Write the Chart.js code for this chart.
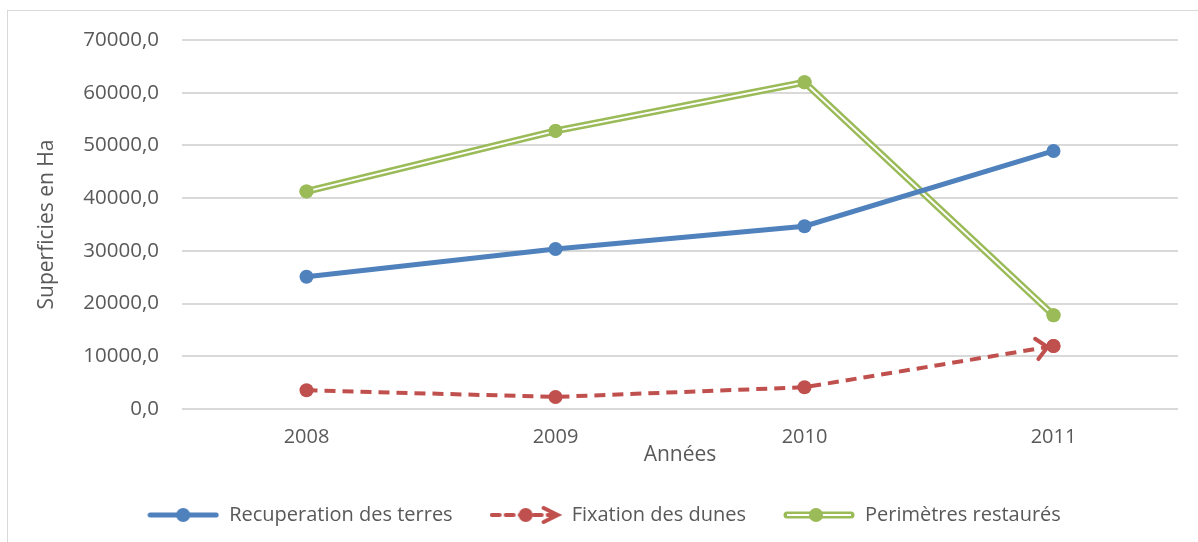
<!DOCTYPE html>
<html>
<head>
<meta charset="utf-8">
<script src="https://cdn.jsdelivr.net/npm/chart.js@4"></script>
<style>
  html, body { margin: 0; padding: 0; background: #fff; overflow: hidden; }
  #frame { position: absolute; left: 7px; top: 10px; width: 1210px; height: 560px; border: 1px solid #d9d9d9; pointer-events: none; }
  #chart { position: absolute; left: 0; top: 0; }
</style>
</head>
<body>
<canvas id="chart" width="1198" height="542"></canvas>
<div id="frame"></div>
<script>
// data
const years = ["2008", "2009", "2010", "2011"];
const recuperation = [25080, 30360, 34670, 48950];
const fixation = [3560, 2290, 4130, 11940];
const perimetres = [41280, 52760, 61980, 17790];

const BLUE = "#4f81bd";
const RED = "#c0504d";
const GREEN = "#9bbb59";
const TEXT = "#595959";
const FONT = "'Open Sans', 'Noto Sans', sans-serif";

// legend icons
function makeIcon(kind) {
    const c = document.createElement("canvas");
    c.width = 72; c.height = 18;
    const g = c.getContext("2d");
    const y = 9;
    if (kind === "blue") {
        g.strokeStyle = BLUE; g.lineWidth = 5; g.lineCap = "round";
        g.beginPath(); g.moveTo(3, y); g.lineTo(69, y); g.stroke();
        g.fillStyle = BLUE; g.beginPath(); g.arc(36, y, 7, 0, Math.PI * 2); g.fill();
    } else if (kind === "red") {
        g.strokeStyle = RED; g.lineWidth = 4; g.lineCap = "round";
        g.setLineDash([8, 6]);
        g.beginPath(); g.moveTo(2, y); g.lineTo(64, y); g.stroke();
        g.setLineDash([]);
        g.beginPath(); g.moveTo(54, y - 7); g.lineTo(68, y); g.lineTo(54, y + 7); g.stroke();
        g.fillStyle = RED; g.beginPath(); g.arc(36, y, 7, 0, Math.PI * 2); g.fill();
    } else {
        g.strokeStyle = GREEN; g.lineWidth = 7; g.lineCap = "round";
        g.beginPath(); g.moveTo(4, y); g.lineTo(68, y); g.stroke();
        g.strokeStyle = "#fff"; g.lineWidth = 2; g.lineCap = "butt";
        g.beginPath(); g.moveTo(4, y); g.lineTo(68, y); g.stroke();
        g.fillStyle = GREEN; g.beginPath(); g.arc(33, y, 7, 0, Math.PI * 2); g.fill();
    }
    return c;
}
const legendIcons = [makeIcon("blue"), makeIcon("red"), makeIcon("green")];

// white inner line for the double green line, arrowhead on the red line
const decorations = {
    id: "decorations",
    afterDatasetDraw(chart, args) {
        const ctx = chart.ctx;
        const pts = chart.getDatasetMeta(args.index).data;
        if (args.index === 2) {
            ctx.save();
            ctx.strokeStyle = "#fff";
            ctx.lineWidth = 2;
            ctx.lineJoin = "miter";
            ctx.beginPath();
            pts.forEach((p, i) => i ? ctx.lineTo(p.x, p.y) : ctx.moveTo(p.x, p.y));
            ctx.stroke();
            ctx.restore();
            pts.forEach(p => p.draw(ctx, chart.chartArea));
        }
        if (args.index === 1) {
            const a = pts[pts.length - 2], b = pts[pts.length - 1];
            const ang = Math.atan2(b.y - a.y, b.x - a.x);
            const tx = b.x - 6 * Math.cos(ang), ty = b.y - 6 * Math.sin(ang);
            const len = 15, spread = 0.75;
            ctx.save();
            ctx.strokeStyle = RED;
            ctx.lineWidth = 4;
            ctx.lineCap = "round";
            ctx.beginPath();
            ctx.moveTo(tx - len * Math.cos(ang - spread), ty - len * Math.sin(ang - spread));
            ctx.lineTo(tx, ty);
            ctx.lineTo(tx - len * Math.cos(ang + spread), ty - len * Math.sin(ang + spread));
            ctx.stroke();
            ctx.restore();
            b.draw(ctx, chart.chartArea);
        }
    }
};

Chart.defaults.font.family = FONT;
Chart.defaults.font.size = 20;
Chart.defaults.color = TEXT;

new Chart(document.getElementById("chart"), {
    type: "line",
    data: {
        labels: years,
        datasets: [{
            label: "Recuperation des terres",
            data: recuperation,
            borderColor: BLUE,
            backgroundColor: BLUE,
            borderWidth: 5,
            pointRadius: 7,
            pointBorderWidth: 0
        }, {
            label: "Fixation des dunes",
            data: fixation,
            borderColor: RED,
            backgroundColor: RED,
            borderWidth: 4,
            borderDash: [11, 7],
            pointRadius: 7,
            pointBorderWidth: 0
        }, {
            label: "Perimètres restaurés",
            data: perimetres,
            borderColor: GREEN,
            backgroundColor: GREEN,
            borderWidth: 7,
            pointRadius: 7,
            pointBorderWidth: 0
        }]
    },
    options: {
        responsive: false,
        animation: false,
        layout: { padding: { left: 30, right: 20, top: 40, bottom: 7 } },
        scales: {
            x: {
                offset: true,
                grid: { display: false },
                border: { display: false },
                ticks: { padding: 8, color: TEXT, font: { size: 20 } },
                title: { display: true, text: "Années", color: TEXT, font: { size: 21 }, padding: { top: 0, bottom: 0 } },
                afterFit(scale) { scale.height = 59; }
            },
            y: {
                min: 0,
                max: 70000,
                ticks: {
                    stepSize: 10000,
                    padding: 23,
                    color: TEXT,
                    font: { size: 20.5 },
                    callback: v => v.toFixed(1).replace(".", ",")
                },
                grid: { color: "#d9d9d9", lineWidth: 2, drawTicks: false },
                border: { display: false },
                title: { display: true, text: "Superficies en Ha", color: TEXT, font: { size: 21 }, padding: { top: 4, bottom: 0 } },
                afterFit(scale) { scale.width = 152; }
            }
        },
        plugins: {
            tooltip: { enabled: false },
            legend: {
                position: "bottom",
                labels: {
                    usePointStyle: true,
                    pointStyleWidth: 72,
                    padding: 37,
                    color: TEXT,
                    font: { size: 20 },
                    generateLabels(chart) {
                        const items = Chart.defaults.plugins.legend.labels.generateLabels(chart);
                        items.forEach(it => { it.pointStyle = legendIcons[it.datasetIndex]; });
                        return items;
                    }
                }
            }
        }
    },
    plugins: [decorations]
});
</script>
</body>
</html>
